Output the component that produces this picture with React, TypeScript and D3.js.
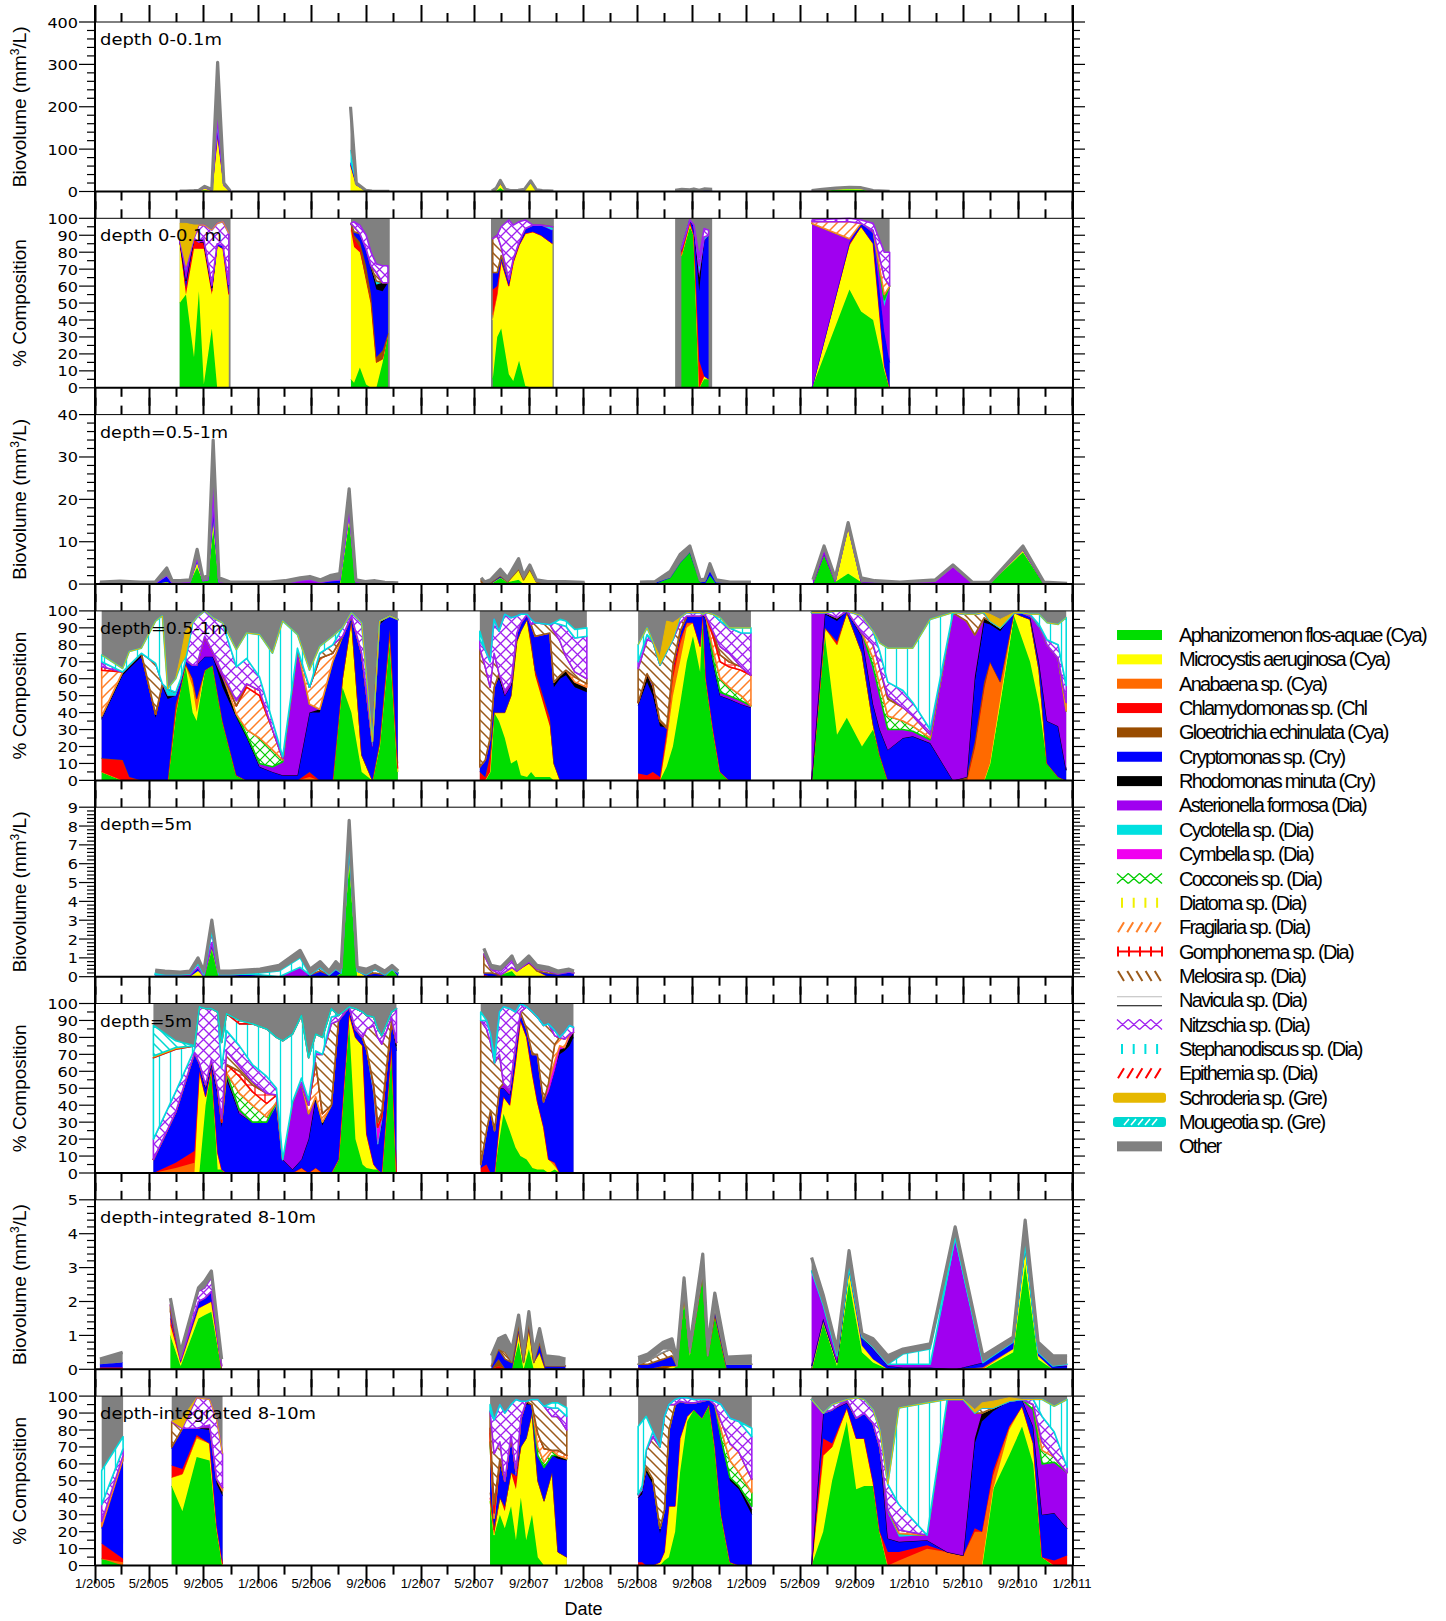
import React from "react";
import * as d3 from "d3";

type Row = { d: string; [k: string]: number | string };

const SPECIES = ["aph","mic","ana","chl","glo","cry","rho","ast","cyc","cym","coc","dia","fra","gom","mel","nav","nit","ste","epi","sch","mou"];
const LEGEND_LABELS = [
  "Aphanizomenon flos-aquae (Cya)","Microcystis aeruginosa (Cya)","Anabaena sp. (Cya)","Chlamydomonas sp. (Chl",
  "Gloeotrichia echinulata (Cya)","Cryptomonas sp. (Cry)","Rhodomonas minuta (Cry)","Asterionella formosa (Dia)",
  "Cyclotella sp. (Dia)","Cymbella sp. (Dia)","Cocconeis sp. (Dia)","Diatoma sp. (Dia)","Fragilaria sp. (Dia)",
  "Gomphonema sp. (Dia)","Melosira sp. (Dia)","Navicula sp. (Dia)","Nitzschia sp. (Dia)","Stephanodiscus sp. (Dia)",
  "Epithemia sp. (Dia)","Schroderia sp. (Gre)","Mougeotia sp. (Gre)","Other"];
const PANEL_LABELS = ["depth 0-0.1m","depth 0-0.1m","depth=0.5-1m","depth=0.5-1m","depth=5m","depth=5m","depth-integrated 8-10m","depth-integrated 8-10m"];
const BIO_MAX = [400, 40, 9, 5];
const BIO_MAJOR = [100, 10, 1, 1];
const BIO_MINOR = [20, 2, 0.2, 0.2];

// ---------- depth 0-0.1 m biovolume ----------
const surfBio: Row[][] = [
  [{d:"2005-07-10",tot:1,mic:0.5},{d:"2005-07-24",tot:1,mic:0.5},{d:"2005-08-11",tot:2,mic:1},{d:"2005-08-22",tot:3,mic:1,aph:1},
   {d:"2005-09-04",tot:12,mic:6,aph:3,nit:1},{d:"2005-09-20",tot:5,mic:3},{d:"2005-10-03",tot:305,mic:130,chl:3,cry:5,ast:8,cyc:25},
   {d:"2005-10-17",tot:20,mic:15,nit:1},{d:"2005-10-31",tot:2,mic:1}],
  [{d:"2006-07-28",tot:200,mic:60,chl:3,cry:5,cyc:30},{d:"2006-08-10",tot:20,mic:15,cry:1},{d:"2006-08-31",tot:3,mic:2},
   {d:"2006-09-14",tot:1,mic:0.5},{d:"2006-10-05",tot:0.5},{d:"2006-10-23",tot:0.5}],
  [{d:"2007-06-10",tot:1},{d:"2007-06-20",tot:8,mic:3,aph:2},{d:"2007-06-29",tot:26,aph:8,mic:10,chl:1,cry:1},{d:"2007-07-10",tot:5,mic:3},
   {d:"2007-07-22",tot:2,mic:1},{d:"2007-08-08",tot:3,mic:2},{d:"2007-08-22",tot:5,mic:4},{d:"2007-09-05",tot:25,mic:20,aph:1},
   {d:"2007-09-18",tot:4,mic:3},{d:"2007-10-01",tot:2,mic:1},{d:"2007-10-26",tot:1}],
  [{d:"2008-07-25",tot:3},{d:"2008-08-09",tot:5,aph:3},{d:"2008-08-27",tot:4,aph:3},{d:"2008-09-05",tot:6,aph:4},
   {d:"2008-09-17",tot:3,cry:1},{d:"2008-09-28",tot:6,cry:3},{d:"2008-10-16",tot:5,cry:3}],
  [{d:"2009-05-27",tot:2,ast:1.5},{d:"2009-06-20",tot:5,aph:2,ast:2},{d:"2009-07-20",tot:8,aph:4,mic:2},{d:"2009-08-20",tot:10,aph:5,mic:3},
   {d:"2009-09-15",tot:9,aph:4,mic:4},{d:"2009-10-12",tot:2,aph:1},{d:"2009-11-06",tot:1},{d:"2009-11-18",tot:0.5}],
];

// ---------- depth 0-0.1 m composition (%) ----------
const surfCompSpans = [["2005-07-10","2005-11-01"],["2006-07-29","2006-10-24"],["2007-06-08","2007-10-27"],["2008-07-25","2008-10-16"],["2009-05-28","2009-11-18"]];
const surfComp: Row[][] = [
  [{d:"2005-07-10",aph:50,mic:35,chl:2,sch:10},{d:"2005-07-24",aph:55,chl:4,cry:4,cyc:2,ast:6,sch:26},{d:"2005-08-11",aph:18,mic:64,chl:5,cry:1,sch:8},
   {d:"2005-08-22",aph:57,mic:25,chl:4,nit:10},{d:"2005-09-02",aph:2,mic:80,chl:4,ast:2,nit:8},{d:"2005-09-20",aph:35,mic:20,chl:2,cry:2,cyc:1,ast:1,nit:32},
   {d:"2005-10-02",mic:84,cry:1,nit:12},{d:"2005-10-15",mic:82,cry:2,nit:14},{d:"2005-10-28",mic:55,cry:5,rho:1,nit:30}],
  [{d:"2006-07-29",aph:5,mic:88,chl:4},{d:"2006-08-05",aph:3,mic:80,chl:5,glo:2,cry:2,mel:3,nit:3},{d:"2006-08-18",aph:12,mic:68,chl:3,glo:3,cry:5,nit:5},
   {d:"2006-09-01",aph:2,mic:62,glo:8,cry:10,nit:8},{d:"2006-09-12",mic:50,glo:5,cry:15,rho:2,nit:8},{d:"2006-09-24",mic:15,glo:3,cry:40,rho:3,cyc:2,mel:5,nit:5},
   {d:"2006-10-08",aph:15,mic:2,glo:5,cry:35,rho:5,nit:10},{d:"2006-10-20",aph:32,cry:30,nit:10}],
  [{d:"2007-06-12",aph:5,mic:35,ana:3,chl:15,cry:10,mel:20},{d:"2007-06-22",aph:30,mic:25,chl:5,cry:8,mel:22},{d:"2007-07-01",aph:35,mic:40,cry:3,mel:5,nit:12},
   {d:"2007-07-18",aph:8,mic:52,cry:2,ast:2,nit:35},{d:"2007-07-28",aph:4,mic:70,cry:2,nit:20},{d:"2007-08-10",aph:16,mic:68,cry:2,nit:12},
   {d:"2007-08-24",aph:1,mic:90,cry:3,nit:5},{d:"2007-09-10",mic:92,cry:4},{d:"2007-09-28",mic:90,cry:6},{d:"2007-10-24",mic:85,cry:8,cyc:2}],
  [{d:"2008-08-08",aph:78,chl:2,cry:2},{d:"2008-08-27",aph:95,mic:1,ana:1,chl:1,cry:1},{d:"2008-09-05",aph:90,cry:5,ast:1},
   {d:"2008-09-17",chl:16,cry:41,rho:8,ast:3,cyc:4,nit:5},{d:"2008-09-28",aph:5,mic:2,cry:80,cyc:2,nit:5},{d:"2008-10-08",aph:5,cry:85,nit:3}],
  [{d:"2009-05-28",ast:97,fra:1,nit:1},{d:"2009-08-20",aph:58,mic:26,chl:1,cry:1,ast:2,fra:10,nit:2},{d:"2009-09-15",aph:45,mic:50,cry:2,nit:2},
   {d:"2009-10-12",aph:40,mic:45,cry:6,ast:2,nit:4},{d:"2009-11-06",aph:10,mic:3,cry:20,ast:15,cyc:4,coc:3,fra:10,nit:15},{d:"2009-11-18",cry:15,ast:45,nit:20}],
];

// ---------- depth 0.5-1 m biovolume ----------
const midBio: Row[][] = [
  [{d:"2005-01-12",tot:0.5,cry:0.2},{d:"2005-02-26",tot:0.7,cry:0.3},{d:"2005-04-12",tot:0.5,cry:0.2},{d:"2005-05-16",tot:0.5,cry:0.2},
   {d:"2005-06-11",tot:3.8,cry:1.5,aph:0.5},{d:"2005-06-23",tot:0.8,cry:0.3},{d:"2005-07-11",tot:0.8,aph:0.3},{d:"2005-08-02",tot:1.0,aph:0.5},
   {d:"2005-08-18",tot:8.2,aph:4,mic:1,cry:1},{d:"2005-08-31",tot:1.5,aph:0.8},{d:"2005-09-11",tot:2,aph:1},
   {d:"2005-09-23",tot:34,aph:13,mic:2,cry:1,ast:4,cyc:1,nit:2},{d:"2005-10-06",tot:1.5,aph:0.5},{d:"2005-10-31",tot:0.5},{d:"2005-12-15",tot:0.5},
   {d:"2006-01-28",tot:0.5},{d:"2006-03-03",tot:0.8},{d:"2006-04-06",tot:1.5,ast:0.8},{d:"2006-04-28",tot:1.8,ast:1},{d:"2006-05-21",tot:1.0,cry:0.4},
   {d:"2006-06-12",tot:2.0,cry:0.8},{d:"2006-07-04",tot:2.5,cry:1},{d:"2006-07-25",tot:22.5,aph:15,mic:1,cry:1},{d:"2006-08-09",tot:1,aph:0.5},
   {d:"2006-08-30",tot:0.6},{d:"2006-09-21",tot:0.8},{d:"2006-10-13",tot:0.4},{d:"2006-11-12",tot:0.3}],
  [{d:"2007-05-17",tot:1.5,cry:0.5,mel:0.5},{d:"2007-05-25",tot:0.5,cry:0.2},{d:"2007-06-07",tot:1.0,cry:0.3},{d:"2007-06-29",tot:3.5,aph:1.5,cry:0.5},
   {d:"2007-07-15",tot:1.5,aph:0.5},{d:"2007-08-09",tot:6,mic:2.5,aph:1},{d:"2007-08-20",tot:2,mic:1},{d:"2007-09-03",tot:4.5,mic:3.5},
   {d:"2007-09-18",tot:1,mic:0.5},{d:"2007-10-13",tot:0.6},{d:"2007-11-20",tot:0.6,cry:0.3},{d:"2008-01-04",tot:0.4,cry:0.2}],
  [{d:"2008-05-07",tot:0.5,cry:0.2},{d:"2008-06-10",tot:0.6,cry:0.3},{d:"2008-07-14",tot:3,aph:1.5},{d:"2008-08-05",tot:7,aph:5},
   {d:"2008-08-27",tot:9,aph:7.5},{d:"2008-09-19",tot:1,aph:0.5},{d:"2008-09-30",tot:1.2,cry:0.5},{d:"2008-10-11",tot:4.8,aph:2,cry:1},
   {d:"2008-10-25",tot:1,cry:0.4},{d:"2008-11-25",tot:0.5,cry:0.2},{d:"2009-01-11",tot:0.5,cry:0.2}],
  [{d:"2009-05-30",tot:1,ast:0.8},{d:"2009-06-24",tot:9,aph:7,ast:1},{d:"2009-07-19",tot:1.5,aph:0.5},{d:"2009-08-17",tot:14.5,mic:11,aph:2.5},
   {d:"2009-09-15",tot:1.5,aph:0.5},{d:"2009-10-16",tot:0.8,cry:0.3},{d:"2009-12-11",tot:0.5,cry:0.2},{d:"2010-02-28",tot:1,ast:0.5},
   {d:"2010-04-09",tot:4.5,ast:4},{d:"2010-05-22",tot:0.5,ana:0.2},{d:"2010-07-01",tot:0.4,aph:0.2},{d:"2010-09-13",tot:9,aph:7.5,mic:0.5},
   {d:"2010-10-30",tot:0.5,ast:0.2},{d:"2010-12-21",tot:0.2}],
];

// ---------- depth 0.5-1 m composition (%) ----------
const midComp: Row[][] = [
  [{d:"2005-01-16",aph:5,chl:8,cry:23,rho:1,cyc:1,fra:27,gom:2,nit:3,ste:4},{d:"2005-03-04",chl:12,cry:50,rho:1,ast:1,ste:2},
   {d:"2005-03-19",chl:2,cry:64,rho:2,ste:8},{d:"2005-04-15",cry:73,rho:2,ste:3},{d:"2005-05-17",cry:37,rho:2,mel:30,ste:25},
   {d:"2005-06-01",cry:55,rho:2,ste:40},{d:"2005-06-13",cry:48,rho:2,cyc:4},{d:"2005-07-01",aph:40,chl:3,cry:5,glo:2,cyc:2,ste:8},
   {d:"2005-07-12",aph:55,cry:3,cyc:2,ste:8,sch:5},{d:"2005-07-23",aph:68,chl:1,cry:2,ste:2,sch:15},{d:"2005-08-08",aph:40,mic:15,ana:5,cry:8,nit:25},
   {d:"2005-08-17",aph:35,mic:5,ana:8,cry:20,nit:28},{d:"2005-09-04",aph:65,cry:8,ast:12,nit:15},{d:"2005-09-22",aph:68,cry:5,ast:3,nit:20},
   {d:"2005-10-14",aph:35,cry:20,rho:5,ast:3,nit:30},{d:"2005-11-14",aph:3,cry:34,rho:2,fra:5,mel:3,nit:20,ste:10},
   {d:"2005-12-07",cry:25,rho:2,coc:3,fra:25,gom:2,nit:15,ste:15},{d:"2006-01-05",cry:8,ast:2,coc:15,fra:25,gom:3,nit:8,ste:25},
   {d:"2006-02-03",cry:5,ast:3,coc:10,fra:12,nit:5,ste:40},{d:"2006-02-26",cry:3,ast:8,coc:1,fra:1,nit:1,ste:80},
   {d:"2006-03-31",cry:3,ast:75,ste:8},{d:"2006-04-27",ana:2,chl:3,cry:35,ast:5,fra:10,ste:10},{d:"2006-05-20",cry:40,rho:2,fra:30,mel:3,ste:4},
   {d:"2006-06-18",cry:70,fra:5,mel:5,ste:5},{d:"2006-07-10",aph:55,mic:5,cry:25,nit:5},{d:"2006-07-30",aph:40,mic:55,cry:2,nit:2},
   {d:"2006-08-22",aph:5,mic:10,cry:60,nit:18},{d:"2006-09-15",cry:20,cyc:3},{d:"2006-10-01",aph:20,ana:2,cry:70,rho:2},
   {d:"2006-10-24",aph:85,ana:2,glo:2,cry:8},{d:"2006-11-11",aph:5,ana:2,glo:3,cry:85}],
  [{d:"2007-05-14",chl:5,cry:3,mel:70,nit:5,ste:5},{d:"2007-05-26",chl:2,cry:10,mel:55,nit:10},{d:"2007-06-06",aph:5,chl:10,cry:10,mel:30,nit:15},
   {d:"2007-06-15",aph:40,cry:15,mel:20,nit:20},{d:"2007-06-26",aph:35,mic:5,cry:20,rho:3,nit:25},{d:"2007-07-09",aph:25,mic:15,cry:10,ast:3,nit:45},
   {d:"2007-07-23",aph:10,mic:40,cry:6,ast:2,nit:38},{d:"2007-08-05",aph:12,mic:70,cry:5,nit:10},{d:"2007-08-14",aph:3,mic:85,cry:5,nit:5},
   {d:"2007-08-28",aph:2,mic:93,cry:3},{d:"2007-09-06",aph:5,mic:75,glo:2,cry:10,nit:3},{d:"2007-09-15",aph:2,mic:60,chl:3,cry:20,mel:8},
   {d:"2007-10-18",aph:2,mic:30,chl:5,cry:50,mel:5},{d:"2007-10-27",mic:10,cry:45,rho:3,mel:30,nit:5},{d:"2007-11-10",cry:60,rho:2,mel:20,nit:10,ste:3},
   {d:"2007-11-23",cry:62,rho:3,mel:8,nit:18,ste:3},{d:"2007-12-13",cry:55,rho:3,fra:3,mel:3,nit:20,ste:5},{d:"2008-01-09",cry:52,rho:3,fra:2,mel:3,nit:25,ste:5}],
  [{d:"2008-05-03",chl:4,cry:40,rho:2,mel:20,nit:4,ste:10},{d:"2008-05-23",chl:3,cry:55,rho:5,mel:20,nit:3,ste:4},{d:"2008-06-05",chl:5,cry:45,rho:5,cyc:2,mel:25},
   {d:"2008-06-21",chl:2,cry:30,rho:3,mel:33,sch:5},{d:"2008-07-06",aph:8,mic:15,ana:3,chl:3,cry:2,mel:45,sch:18},
   {d:"2008-07-20",aph:20,mic:30,ana:10,chl:5,cry:3,mel:15,sch:10},{d:"2008-08-05",aph:45,mic:25,ana:10,chl:3,cry:5,mel:5,nit:3},
   {d:"2008-08-20",aph:70,mic:20,ana:3,cry:4,nit:2},{d:"2008-09-03",aph:85,mic:8,cry:4,nit:2},{d:"2008-09-19",aph:64,mic:15,cry:18,nit:2},
   {d:"2008-09-25",aph:98},{d:"2008-10-02",aph:60,cry:35,ast:2,nit:2},{d:"2008-10-18",aph:30,cry:40,ast:2,coc:5,fra:8,gom:3,nit:10},
   {d:"2008-11-03",aph:5,cry:45,ast:2,coc:8,fra:10,gom:4,mel:5,nit:15,ste:2},{d:"2008-11-23",cry:48,ast:2,coc:5,fra:12,gom:3,mel:5,nit:15},
   {d:"2008-12-20",cry:45,ast:2,coc:3,fra:15,gom:2,nit:20,ste:3},{d:"2009-01-11",cry:43,ast:1,fra:18,nit:25,ste:3}],
  [{d:"2009-05-27",ast:99},{d:"2009-06-26",aph:85,mic:5,cry:8,rho:1},{d:"2009-07-23",aph:27,mic:53,chl:2,cry:12,rho:2,nit:4},
   {d:"2009-08-14",aph:37,mic:62,cry:1},{d:"2009-09-17",aph:20,mic:55,cry:10,ast:2,nit:10},
   {d:"2009-10-12",aph:30,mic:3,cry:12,ast:20,cyc:2,coc:5,fra:8,nit:8},{d:"2009-10-27",aph:15,cry:15,ast:20,coc:6,fra:10,nit:10,ste:5},
   {d:"2009-11-14",cry:18,ast:12,coc:8,fra:10,mel:2,nit:8,ste:20},{d:"2009-12-18",cry:25,ast:5,coc:5,fra:8,nit:10,ste:25},
   {d:"2010-01-09",cry:26,ast:3,coc:3,fra:6,nit:8,ste:32},{d:"2010-02-17",cry:22,ast:2,coc:1,fra:2,nit:3,ste:65},{d:"2010-04-09",ast:99},
   {d:"2010-05-10",glo:2,ast:92,mel:4},{d:"2010-05-28",ana:20,glo:3,cry:35,rho:3,ast:25,mel:12},{d:"2010-06-18",ana:55,glo:3,cry:35,rho:3,mel:3},
   {d:"2010-07-01",aph:10,ana:60,cry:22,rho:2,sch:4},{d:"2010-07-24",aph:45,mic:3,ana:10,cry:30,rho:2,sch:5},{d:"2010-08-24",aph:97,mic:2},
   {d:"2010-09-09",aph:85,mic:12,cry:2},{d:"2010-09-29",aph:70,mic:25,cry:2,nit:1},{d:"2010-10-19",aph:45,mic:20,cry:5,ast:20,cyc:2,ste:6},
   {d:"2010-11-06",aph:10,cry:25,ast:45,nit:3,ste:10},{d:"2010-12-01",aph:2,cry:30,ast:40,nit:8,ste:12},{d:"2010-12-19",cry:6,ast:35,fra:5,nit:10,ste:40}],
];

// ---------- depth 5 m biovolume ----------
const m5Bio: Row[][] = [
  [{d:"2005-05-16",tot:0.35,cry:0.1,ste:0.1},{d:"2005-06-07",tot:0.3,cry:0.1},{d:"2005-07-11",tot:0.25,cry:0.1},{d:"2005-08-02",tot:0.3,cry:0.1,nit:0.05},
   {d:"2005-08-20",tot:1.0,mic:0.3,cry:0.2,nit:0.2},{d:"2005-09-02",tot:0.3,nit:0.1},{d:"2005-09-20",tot:3.0,aph:1.5,cry:0.3,nit:0.6},
   {d:"2005-10-06",tot:0.3,cry:0.1},{d:"2005-10-31",tot:0.3,cry:0.1},{d:"2005-12-03",tot:0.35,cry:0.15},{d:"2006-01-06",tot:0.4,cry:0.1,ste:0.1},
   {d:"2006-02-18",tot:0.6,ste:0.3},{d:"2006-04-06",tot:1.4,ast:0.5,ste:0.5},{d:"2006-04-28",tot:0.4,cry:0.1},{d:"2006-05-21",tot:0.8,cry:0.3,mel:0.2},
   {d:"2006-06-10",tot:0.3,cry:0.1},{d:"2006-06-25",tot:0.8,cry:0.4},{d:"2006-07-07",tot:0.5,aph:0.2},{d:"2006-07-25",tot:8.3,aph:6,mic:0.5,cry:0.5},
   {d:"2006-08-12",tot:0.5,mic:0.3},{d:"2006-09-01",tot:0.4,cry:0.1},{d:"2006-09-21",tot:0.6,cry:0.2,mel:0.2},{d:"2006-10-13",tot:0.3,cry:0.1},
   {d:"2006-10-29",tot:0.6,aph:0.4},{d:"2006-11-12",tot:0.3,cry:0.2}],
  [{d:"2007-05-23",tot:1.5,chl:0.1,cry:0.1,mel:1.0},{d:"2007-06-08",tot:0.6,cry:0.2,mel:0.2},{d:"2007-06-30",tot:0.5,aph:0.1,nit:0.2},
   {d:"2007-07-25",tot:1.1,aph:0.3,mic:0.2,nit:0.4},{d:"2007-08-05",tot:0.5,mic:0.3},{d:"2007-09-01",tot:1.1,mic:0.7,cry:0.1},
   {d:"2007-09-19",tot:0.6,mic:0.3,mel:0.1},{d:"2007-10-14",tot:0.5,cry:0.2,mel:0.1},{d:"2007-11-05",tot:0.3,cry:0.15},
   {d:"2007-11-30",tot:0.4,cry:0.25},{d:"2007-12-11",tot:0.3,cry:0.2}],
];

// ---------- depth 5 m composition (%) ----------
const m5Comp: Row[][] = [
  [{d:"2005-05-12",cry:8,nit:12,ste:48,sch:1,mou:18},{d:"2005-07-01",ana:3,chl:3,cry:30,nit:12,ste:25,sch:1,mou:4},
   {d:"2005-08-12",ana:6,chl:7,cry:58,nit:2,ste:2},{d:"2005-08-23",mic:60,cry:5,nit:33},{d:"2005-09-06",aph:40,mic:5,cry:5,ast:2,nit:45},
   {d:"2005-09-19",aph:62,cry:3,ast:2,nit:30},{d:"2005-10-03",aph:2,mic:10,cry:35,ast:3,nit:45},{d:"2005-10-12",aph:2,cry:25,rho:3,gom:2,nit:30,ste:15},
   {d:"2005-10-23",cry:55,rho:2,ast:2,fra:5,mel:8,nit:12,ste:10},{d:"2005-11-21",cry:35,ast:2,coc:10,fra:10,gom:3,mel:3,nit:12,ste:13,epi:2},
   {d:"2005-12-20",cry:30,coc:10,fra:8,gom:4,mel:2,nit:10,ste:24},{d:"2006-01-21",cry:30,coc:3,fra:8,gom:6,nit:10,ste:28},
   {d:"2006-02-12",cry:40,cyc:2,fra:4,nit:4,ste:30},{d:"2006-02-26",cry:8,ste:70},{d:"2006-03-20",cry:2,ast:40,ste:40},
   {d:"2006-04-09",ana:3,cry:5,ast:45,nit:3,ste:37},{d:"2006-04-25",cry:20,ast:15,fra:5,nit:3,ste:25},
   {d:"2006-05-11",ana:3,cry:40,rho:2,fra:20,mel:5,nit:2,ste:10},{d:"2006-05-26",cry:28,rho:2,fra:5,mel:35,ste:10},
   {d:"2006-06-15",cry:40,mel:48,nit:4,ste:5},{d:"2006-07-01",aph:8,cry:82,nit:3},{d:"2006-07-25",aph:88,mic:6,cry:4},
   {d:"2006-08-08",aph:20,mic:60,cry:5,nit:12},{d:"2006-08-24",aph:5,mic:70,cry:5,nit:15},{d:"2006-09-02",aph:3,mic:20,cry:50,mel:12,nit:8},
   {d:"2006-09-18",aph:2,mic:3,cry:40,rho:2,cym:5,mel:35,nit:5},{d:"2006-09-27",aph:2,cry:15,cym:10,gom:3,mel:50,nit:5},
   {d:"2006-10-06",cry:28,rho:3,cym:2,gom:3,mel:40,nit:5},{d:"2006-10-28",aph:75,cry:15,mel:2,nit:3},{d:"2006-11-08",cry:72,rho:3,ast:2,nit:20}],
  [{d:"2007-05-16",chl:3,cry:2,mel:85,ste:5},{d:"2007-05-29",chl:5,cry:20,mel:60,nit:5},{d:"2007-06-07",cry:35,rho:2,mel:40,nit:5},
   {d:"2007-06-16",cry:25,mel:40,ste:3},{d:"2007-06-27",aph:20,mic:10,cry:20,mel:20,nit:25},{d:"2007-07-06",aph:35,mic:10,cry:5,ast:3,nit:45},
   {d:"2007-07-20",aph:25,mic:15,cry:6,ast:3,nit:48},{d:"2007-08-02",aph:15,mic:50,cry:10,nit:20},{d:"2007-08-13",aph:10,mic:80,cry:5,nit:5},
   {d:"2007-08-27",aph:8,mic:72,cry:5,mel:13},{d:"2007-09-09",aph:3,mic:55,cry:12,mel:25},{d:"2007-09-20",aph:2,mic:40,cry:28,mel:22},
   {d:"2007-10-04",aph:2,mic:25,cry:15,mel:45},{d:"2007-10-15",mic:8,cry:40,cym:5,mel:35},{d:"2007-10-29",aph:2,mic:2,ana:2,cry:55,cym:5,fra:10,mel:5,nit:3},
   {d:"2007-11-09",cry:70,rho:3,cym:2,fra:5},{d:"2007-11-20",cry:72,rho:2,fra:5,nit:4},{d:"2007-12-01",cry:75,rho:5,cym:2,nit:5},{d:"2007-12-10",cry:80,rho:3,nit:3}],
];

// ---------- depth-integrated 8-10 m biovolume ----------
const deepBio: Row[][] = [
  [{d:"2005-01-12",tot:0.3,chl:0.05,cry:0.1},{d:"2005-03-04",tot:0.5,chl:0.05,cry:0.15}],
  [{d:"2005-06-19",tot:2.1,aph:1.0,mic:0.3,chl:0.2,cry:0.2,mel:0.2},{d:"2005-07-12",tot:0.5,aph:0.1,mic:0.1,cry:0.1},
   {d:"2005-08-21",tot:2.4,aph:1.5,mic:0.3,cry:0.2,nit:0.3},{d:"2005-09-04",tot:2.6,aph:1.6,mic:0.3,cry:0.2,nit:0.3},
   {d:"2005-09-19",tot:2.9,aph:1.7,mic:0.3,cry:0.3,nit:0.4},{d:"2005-10-12",tot:0.3,cry:0.1}],
  [{d:"2007-06-09",tot:0.4,cry:0.1},{d:"2007-06-25",tot:0.9,chl:0.1,glo:0.2,cry:0.3},{d:"2007-07-10",tot:1.0,cry:0.3,mel:0.2},
   {d:"2007-07-25",tot:0.6,cry:0.2},{d:"2007-08-09",tot:1.6,aph:0.8,mic:0.3,cry:0.2},{d:"2007-08-20",tot:0.5,mic:0.2},
   {d:"2007-09-01",tot:1.7,aph:0.6,mic:0.6,cry:0.2},{d:"2007-09-12",tot:0.5,mic:0.2},{d:"2007-09-25",tot:1.2,mic:0.5,cry:0.3},
   {d:"2007-10-08",tot:0.4,cry:0.1},{d:"2007-11-09",tot:0.35,cry:0.1},{d:"2007-11-22",tot:0.3,cry:0.1}],
  [{d:"2008-05-03",tot:0.35,chl:0.05,cry:0.1},{d:"2008-05-25",tot:0.45,cry:0.15,mel:0.1},{d:"2008-06-28",tot:0.8,glo:0.1,cry:0.2,mel:0.2,nav:0.1},
   {d:"2008-07-18",tot:0.9,mic:0.1,cry:0.3,mel:0.2},{d:"2008-07-29",tot:0.3,aph:0.1},{d:"2008-08-14",tot:2.7,aph:2.0,mic:0.2,cry:0.1},
   {d:"2008-08-27",tot:0.7,aph:0.4,mic:0.1},{d:"2008-09-25",tot:3.4,aph:2.8,cry:0.1},{d:"2008-10-06",tot:0.7,aph:0.4},
   {d:"2008-10-22",tot:2.25,aph:1.6,cry:0.2},{d:"2008-11-18",tot:0.36,cry:0.15},{d:"2009-01-13",tot:0.4,cry:0.15}],
  [{d:"2009-05-27",tot:3.3,ast:2.8,cry:0.1},{d:"2009-06-22",tot:2.2,aph:1.4,ast:0.4,cry:0.1},{d:"2009-07-23",tot:0.6,aph:0.1,mic:0.1,ast:0.2},
   {d:"2009-08-19",tot:3.5,aph:2.6,mic:0.3,cry:0.1},{d:"2009-09-17",tot:1.05,aph:0.5,mic:0.2,cry:0.2,rho:0.05},
   {d:"2009-10-12",tot:0.9,aph:0.2,mic:0.1,cry:0.3,ast:0.05},{d:"2009-11-14",tot:0.4,cry:0.1,ast:0.05},{d:"2009-12-18",tot:0.6,cry:0.05,ast:0.1,ste:0.3},
   {d:"2010-02-17",tot:0.75,cry:0.05,ast:0.1,ste:0.45},{d:"2010-04-14",tot:4.2,ast:3.8,cyc:0.1},{d:"2010-06-15",tot:0.4,ana:0.05,cry:0.15},
   {d:"2010-08-22",tot:0.95,aph:0.5,mic:0.1,cry:0.2},{d:"2010-09-18",tot:4.4,aph:3.1,mic:0.5,cyc:0.05},{d:"2010-10-17",tot:0.8,aph:0.3,mic:0.1,cry:0.1},
   {d:"2010-11-19",tot:0.4,cry:0.1},{d:"2010-12-21",tot:0.4,cry:0.1,ast:0.05}],
];

// ---------- depth-integrated 8-10 m composition (%) ----------
const deepComp: Row[][] = [
  [{d:"2005-01-16",aph:4,chl:9,cry:9,rho:1,fra:3,nit:10,ste:20},{d:"2005-03-05",ana:2,chl:2,cry:58,rho:1,fra:2,nit:4,ste:7}],
  [{d:"2005-06-22",aph:47,mic:5,chl:7,cry:10,rho:1,mel:15},{d:"2005-07-16",aph:32,mic:22,chl:3,cry:24,sch:6},
   {d:"2005-08-17",aph:64,mic:11,ana:1,chl:1,cry:4,nit:18},{d:"2005-09-15",aph:62,mic:10,cry:8,rho:1,ast:2,nit:15},
   {d:"2005-10-01",aph:20,mic:3,cry:25,rho:3,nit:35},{d:"2005-10-14",ana:1,cry:40,rho:3,fra:2,nit:20}],
  [{d:"2007-06-06",aph:38,chl:2,glo:3,cry:30,fra:5,gom:3,mel:10,ste:4},{d:"2007-06-15",aph:18,chl:3,glo:2,cry:5,fra:3,gom:5,mel:30,nit:20},
   {d:"2007-06-28",aph:30,mic:10,cry:20,ast:3,mel:10,nit:22},{d:"2007-07-09",aph:22,mic:10,chl:3,cry:15,nit:40},
   {d:"2007-07-23",aph:35,mic:20,cry:20,rho:2,nit:18},{d:"2007-08-03",aph:15,mic:30,chl:8,cyc:3,nit:42},
   {d:"2007-08-14",aph:40,mic:30,cry:15,cyc:2,nit:10},{d:"2007-08-26",aph:15,mic:60,cry:20,rho:2},{d:"2007-09-08",aph:30,mic:60,cry:5,mel:3},
   {d:"2007-09-21",aph:5,mic:45,cry:15,coc:5,fra:8,mel:20},{d:"2007-10-05",mic:38,cry:20,coc:3,fra:8,mel:25},
   {d:"2007-10-23",mic:55,cry:10,coc:3,mel:20,nit:5,ste:3},{d:"2007-11-05",mic:8,cry:55,rho:2,fra:3,mel:20,nit:5,ste:3},
   {d:"2007-11-25",mic:5,cry:57,rho:1,fra:2,mel:15,nit:8,ste:5}],
  [{d:"2008-05-03",chl:2,cry:38,ast:2,ste:40},{d:"2008-05-12",chl:2,cry:40,rho:2,cyc:3,ste:38},{d:"2008-05-21",cry:55,rho:3,mel:10,ste:20},
   {d:"2008-06-05",cry:48,rho:3,mel:25,nit:3},{d:"2008-06-21",mic:2,cry:17,rho:3,mel:48},{d:"2008-07-01",aph:3,mic:5,cry:25,mel:55},
   {d:"2008-07-11",aph:5,mic:30,cry:45,mel:15},{d:"2008-07-25",aph:20,mic:15,cry:60,nit:3},{d:"2008-08-05",aph:55,mic:20,cry:22,nit:2},
   {d:"2008-08-21",aph:85,mic:3,cry:8,nit:3},{d:"2008-09-05",aph:92,cry:4,nit:2},{d:"2008-09-23",aph:87,cry:10,nit:1},{d:"2008-10-09",aph:95,cry:3},
   {d:"2008-10-22",aph:70,cry:25,nit:2},{d:"2008-11-05",aph:30,cry:45,coc:5,fra:5,nit:10},{d:"2008-11-25",aph:2,cry:48,rho:2,coc:10,fra:10,nit:15},
   {d:"2008-12-15",cry:45,rho:2,coc:8,fra:12,nit:18},{d:"2009-01-13",cry:30,rho:3,ast:2,coc:8,fra:8,nit:25,ste:5}],
  [{d:"2009-05-27",ast:98},{d:"2009-06-22",aph:20,mic:45,chl:10,cry:15},{d:"2009-07-12",aph:50,mic:20,chl:2,cry:20,nit:3},
   {d:"2009-08-14",aph:85,mic:8,cry:3,ast:2},{d:"2009-09-04",aph:45,mic:30,cry:12,nit:12},{d:"2009-09-22",aph:47,mic:28,cry:15,nit:8},
   {d:"2009-10-12",aph:47,mic:2,cry:35,nit:8},{d:"2009-10-27",aph:20,cry:50,nit:10},{d:"2009-11-14",chl:8,cry:8,ast:15,cyc:2,nit:15},
   {d:"2009-12-09",ana:3,chl:5,cry:6,ast:3,cyc:2,fra:2,nit:15,ste:57},{d:"2010-02-10",ana:10,chl:2,cry:3,ast:3,ste:78},
   {d:"2010-03-27",ana:8,ast:90},{d:"2010-05-02",ana:6,ast:92},{d:"2010-05-28",ana:20,chl:2,cry:50,rho:3,ast:15,sch:2},
   {d:"2010-06-13",ana:20,cry:65,rho:5,mel:3,sch:3},{d:"2010-07-08",aph:45,ana:8,chl:3,cry:35,rho:2,sch:4},
   {d:"2010-08-13",aph:65,mic:15,ana:2,cry:15,sch:2},{d:"2010-09-11",aph:82,mic:12,cry:4},
   {d:"2010-10-06",aph:60,mic:12,cry:10,ast:10,coc:3,nit:3},{d:"2010-10-26",aph:5,cry:25,ast:30,coc:8,fra:5,nit:15,ste:10},
   {d:"2010-11-22",chl:3,cry:28,ast:30,coc:3,nit:15,ste:15},{d:"2010-12-21",chl:6,cry:16,ast:33,nit:3,ste:40}],
];

// ---------- styling ----------
const SOLID: Record<string, string> = {
  aph: "#00dd00", mic: "#ffff00", ana: "#ff6a00", chl: "#ff0000", glo: "#994c00", cry: "#0000ff", rho: "#000000",
  ast: "#a000f0", cyc: "#00e0e0", cym: "#f000f0", sch: "#e6b800", oth: "#808080",
};
const HATCH: Record<string, string> = {
  coc: "#00cc00", dia: "#f0f000", fra: "#ff7f27", gom: "#ff0000", mel: "#9b5a1a", nav: "#888888",
  nit: "#a020f0", ste: "#00dede", epi: "#ff0000", mou: "#00d8d0",
};
const fillOf = (k: string) => (SOLID[k] ? SOLID[k] : `url(#pat-${k})`);
const strokeOf = (k: string) => SOLID[k] || HATCH[k];

const X0 = 95, X1 = 1072;
const TOPS = [22, 218.3, 414.6, 610.9, 807.2, 1003.5, 1199.8, 1396.1];
const PH = 169.5;
const LABEL_LEN = [122, 122, 128, 128, 92, 92, 216, 216];
const parse = d3.timeParse("%Y-%m-%d");
const xScale = d3.scaleTime().domain([new Date(2005, 0, 1), new Date(2011, 0, 1)]).range([X0, X1]);

function segLayers(rows: Row[], bio: boolean, y: d3.ScaleLinear<number, number>) {
  const keys = bio ? [...SPECIES, "oth"] : SPECIES;
  const xs = rows.map(r => xScale(parse(r.d as string)!));
  const vals = rows.map(r => {
    const v = SPECIES.map(k => (r[k] as number) || 0);
    if (bio) v.push(Math.max(0, (r.tot as number) - d3.sum(v)));
    return v;
  });
  const cums = vals.map(v => { const c = [0]; v.forEach(a => c.push(c[c.length - 1] + a)); return c; });
  const idx = rows.map((_, j) => j);
  const out: { key: string; area: string; top: string }[] = [];
  keys.forEach((k, i) => {
    if (!vals.some(v => v[i] > 0)) return;
    const area = d3.area<number>().x(j => xs[j]).y0(j => y(cums[j][i])).y1(j => y(cums[j][i + 1]))(idx) || "";
    const top = d3.line<number>().x(j => xs[j]).y(j => y(cums[j][i + 1]))(idx) || "";
    out.push({ key: k, area, top });
  });
  return { out, xs };
}

function Patterns() {
  const bg = (w: number, h: number, c = "#fff") => <rect width={w} height={h} fill={c} />;
  return (
    <defs>
      <pattern id="pat-coc" patternUnits="userSpaceOnUse" width={10} height={10}>{bg(10, 10)}<path d="M0,0L10,10M10,0L0,10" stroke={HATCH.coc} strokeWidth={1.2} /></pattern>
      <pattern id="pat-dia" patternUnits="userSpaceOnUse" width={11} height={10}>{bg(11, 10)}<path d="M5.5,0V10" stroke={HATCH.dia} strokeWidth={1.5} /></pattern>
      <pattern id="pat-fra" patternUnits="userSpaceOnUse" width={10} height={10}>{bg(10, 10)}<path d="M0,10L10,0M-5,5L5,-5M5,15L15,5" stroke={HATCH.fra} strokeWidth={1.5} /></pattern>
      <pattern id="pat-gom" patternUnits="userSpaceOnUse" width={10} height={10}>{bg(10, 10)}<path d="M0,5H10M5,0V10" stroke={HATCH.gom} strokeWidth={1.2} /></pattern>
      <pattern id="pat-mel" patternUnits="userSpaceOnUse" width={10} height={10}>{bg(10, 10)}<path d="M0,0L10,10M-5,5L5,15M5,-5L15,5" stroke={HATCH.mel} strokeWidth={1.5} /></pattern>
      <pattern id="pat-nav" patternUnits="userSpaceOnUse" width={8} height={6}>{bg(8, 6)}<path d="M0,3H8" stroke={HATCH.nav} strokeWidth={1} /></pattern>
      <pattern id="pat-nit" patternUnits="userSpaceOnUse" width={11} height={11}>{bg(11, 11)}<path d="M0,0L11,11M11,0L0,11" stroke={HATCH.nit} strokeWidth={1.3} /></pattern>
      <pattern id="pat-ste" patternUnits="userSpaceOnUse" width={11} height={10}>{bg(11, 10)}<path d="M5.5,0V10" stroke={HATCH.ste} strokeWidth={1.3} /></pattern>
      <pattern id="pat-epi" patternUnits="userSpaceOnUse" width={10} height={10}>{bg(10, 10)}<path d="M0,10L10,0M-5,5L5,-5M5,15L15,5" stroke={HATCH.epi} strokeWidth={1.5} /></pattern>
      <pattern id="pat-mou" patternUnits="userSpaceOnUse" width={10} height={10}>{bg(10, 10)}<path d="M0,0L10,10M-5,5L5,15M5,-5L15,5" stroke={HATCH.mou} strokeWidth={1.5} /></pattern>
      {TOPS.map((t, i) => (
        <clipPath id={`clip-${i}`} key={i}><rect x={X0} y={t - 1} width={X1 - X0 + 1} height={PH + 1} /></clipPath>
      ))}
    </defs>
  );
}

function Panel({ idx, bio, segs, spans, yMax, major, minor }: { idx: number; bio: boolean; segs: Row[][]; spans?: string[][]; yMax: number; major: number; minor: number }) {
  const top = TOPS[idx];
  const bottom = top + PH;
  const y = d3.scaleLinear().domain([0, yMax]).range([bottom, top]).clamp(true);
  const yTicks = d3.range(0, yMax + minor / 2, minor);
  const monthTicks = d3.timeMonth.every(2)!.range(new Date(2005, 0, 1), new Date(2011, 0, 2));
  return (
    <g>
      <g clipPath={`url(#clip-${idx})`}>
        {segs.map((rows, s) => {
          const { out, xs } = segLayers(rows, bio, y);
          const span = spans && spans[s] ? [xScale(parse(spans[s][0])!), xScale(parse(spans[s][1])!)] : [xs[0], xs[xs.length - 1]];
          return (
            <g key={s}>
              {!bio && <rect x={span[0]} y={top} width={span[1] - span[0]} height={PH} fill={SOLID.oth} />}
              {out.map(l => {
                const hatch = !!HATCH[l.key];
                return (
                  <g key={l.key}>
                    <path d={l.area} fill={fillOf(l.key)} stroke={hatch ? strokeOf(l.key) : "none"} strokeWidth={hatch ? 1.6 : 0} strokeLinejoin="round" />
                    {!hatch && l.key !== "oth" && <path d={l.top} fill="none" stroke={strokeOf(l.key)} strokeWidth={bio ? 0.8 : 1} />}
                    {bio && l.key === "oth" && <path d={l.top} fill="none" stroke="#808080" strokeWidth={3.2} strokeLinejoin="round" />}
                  </g>
                );
              })}
            </g>
          );
        })}
      </g>
      <line x1={X0} x2={X1 + 1} y1={top} y2={top} stroke="#000" strokeWidth={1} />
      <line x1={X0} x2={X1 + 1} y1={bottom} y2={bottom} stroke="#000" strokeWidth={2} />
      {monthTicks.map((m, i) => {
        const xx = Math.round(xScale(m)) + 0.5;
        const maj = m.getMonth() % 4 === 0;
        return (
          <g key={i}>
            <line x1={xx} x2={xx} y1={bottom} y2={bottom + (maj ? 18 : 9)} stroke="#000" strokeWidth={2} />
            <line x1={xx} x2={xx} y1={top} y2={top - (maj ? 17 : 9)} stroke="#000" strokeWidth={2} />
          </g>
        );
      })}
      {yTicks.map((v, i) => {
        const yy = y(v);
        const maj = Math.abs(v / major - Math.round(v / major)) < 1e-6;
        const lab = String(Math.round(v));
        return (
          <g key={i}>
            <line x1={X0} x2={X0 - (maj ? 16 : 8)} y1={yy} y2={yy} stroke="#000" strokeWidth={1.2} />
            <line x1={X1 + 1} x2={X1 + 1 + (maj ? 12 : 7)} y1={yy} y2={yy} stroke="#000" strokeWidth={1.2} />
            {maj && (
              <text x={78} y={yy + 1.5} textAnchor="end" dominantBaseline="middle" fontFamily="DejaVu Sans" fontSize={14.5}
                textLength={lab.length * 10.2} lengthAdjust="spacingAndGlyphs" fill="#000">{lab}</text>
            )}
          </g>
        );
      })}
      <text x={100} y={top + 23} fontFamily="DejaVu Sans" fontSize={16.5} textLength={LABEL_LEN[idx]} lengthAdjust="spacingAndGlyphs" fill="#000">{PANEL_LABELS[idx]}</text>
      <g transform={`translate(26,${top + PH / 2}) rotate(-90)`}>
        {bio ? (
          <text textAnchor="middle" fontFamily="Liberation Sans, Arial" fontSize={19} fill="#000">
            Biovolume (mm<tspan dy={-7} fontSize={12}>3</tspan><tspan dy={7}>/L)</tspan>
          </text>
        ) : (
          <text textAnchor="middle" fontFamily="Liberation Sans, Arial" fontSize={19} fill="#000">% Composition</text>
        )}
      </g>
    </g>
  );
}

function LegendSwatch({ k, cy }: { k: string; cy: number }) {
  const x0 = 1117, w = 45;
  const c = strokeOf(k);
  if (k === "sch") return <rect x={1113} y={cy - 5} width={53} height={10} rx={3} fill={SOLID.sch} />;
  if (k === "mou") return (
    <g><rect x={1113} y={cy - 5} width={53} height={10} rx={3} fill={HATCH.mou} />
      <path d={d3.range(5).map(i => `M${1124 + i * 7},${cy + 3}L${1129 + i * 7},${cy - 3}`).join("")} stroke="#fff" strokeWidth={1.6} /></g>
  );
  if (SOLID[k]) return <rect x={x0} y={cy - 5} width={w} height={10} fill={c} />;
  let d = "";
  if (k === "coc" || k === "nit") d = d3.range(4).map(i => { const a = x0 + i * 11.25; return `M${a},${cy - 5}L${a + 11.25},${cy + 5}M${a + 11.25},${cy - 5}L${a},${cy + 5}`; }).join("");
  if (k === "dia" || k === "ste") d = d3.range(4).map(i => `M${x0 + 5 + i * 11.7},${cy - 5}V${cy + 5}`).join("");
  if (k === "fra" || k === "epi") d = d3.range(5).map(i => `M${x0 + 1 + i * 9.2},${cy + 5}L${x0 + 7 + i * 9.2},${cy - 5}`).join("");
  if (k === "mel") d = d3.range(5).map(i => `M${x0 + 1 + i * 9.2},${cy - 5}L${x0 + 7 + i * 9.2},${cy + 5}`).join("");
  if (k === "gom") d = `M${x0},${cy}H${x0 + w}` + d3.range(5).map(i => `M${x0 + 1 + i * 11},${cy - 5}V${cy + 5}`).join("");
  if (k === "nav") return (
    <g><line x1={x0} x2={x0 + w} y1={cy - 3.5} y2={cy - 3.5} stroke="#bbb" strokeWidth={1} />
      <line x1={x0} x2={x0 + w} y1={cy + 5.5} y2={cy + 5.5} stroke="#000" strokeWidth={1.2} /></g>
  );
  return <path d={d} stroke={c} strokeWidth={k === "coc" || k === "nit" ? 1.3 : 2} fill="none" />;
}

export default function App() {
  const keys = [...SPECIES, "oth"];
  const monthTicks = d3.timeMonth.every(4)!.range(new Date(2005, 0, 1), new Date(2011, 0, 2));
  const bioSets = [surfBio, midBio, m5Bio, deepBio];
  const compSets = [surfComp, midComp, m5Comp, deepComp];
  return (
    <svg width={1446} height={1621} style={{ position: "absolute", left: 0, top: 0, background: "#fff" }} xmlns="http://www.w3.org/2000/svg">
      <Patterns />
      <rect x={0} y={0} width={1446} height={1621} fill="#fff" />
      {[0, 1, 2, 3].map(p => (
        <g key={p}>
          <Panel idx={p * 2} bio={true} segs={bioSets[p]} yMax={BIO_MAX[p]} major={BIO_MAJOR[p]} minor={BIO_MINOR[p]} />
          <Panel idx={p * 2 + 1} bio={false} segs={compSets[p]} spans={p === 0 ? surfCompSpans : undefined} yMax={100} major={10} minor={5} />
        </g>
      ))}
      <line x1={X0} x2={X0} y1={5} y2={TOPS[7] + PH} stroke="#000" strokeWidth={2} />
      <line x1={X1 + 1} x2={X1 + 1} y1={5} y2={TOPS[7] + PH} stroke="#000" strokeWidth={2} />
      {monthTicks.map((m, i) => (
        <text key={i} x={xScale(m)} y={1588} textAnchor="middle" fontFamily="Liberation Sans, Arial" fontSize={13} fill="#000">
          {`${m.getMonth() + 1}/${m.getFullYear()}`}
        </text>
      ))}
      <text x={(X0 + X1) / 2} y={1615} textAnchor="middle" fontFamily="Liberation Sans, Arial" fontSize={18} fill="#000">Date</text>
      {keys.map((k, i) => {
        const cy = 635 + i * 24.35;
        return (
          <g key={k}>
            <LegendSwatch k={k} cy={cy} />
            <text x={1179} y={cy + 7} fontFamily="Liberation Sans, Arial" fontSize={20} letterSpacing={-1.7} fill="#000">{LEGEND_LABELS[i]}</text>
          </g>
        );
      })}
    </svg>
  );
}
